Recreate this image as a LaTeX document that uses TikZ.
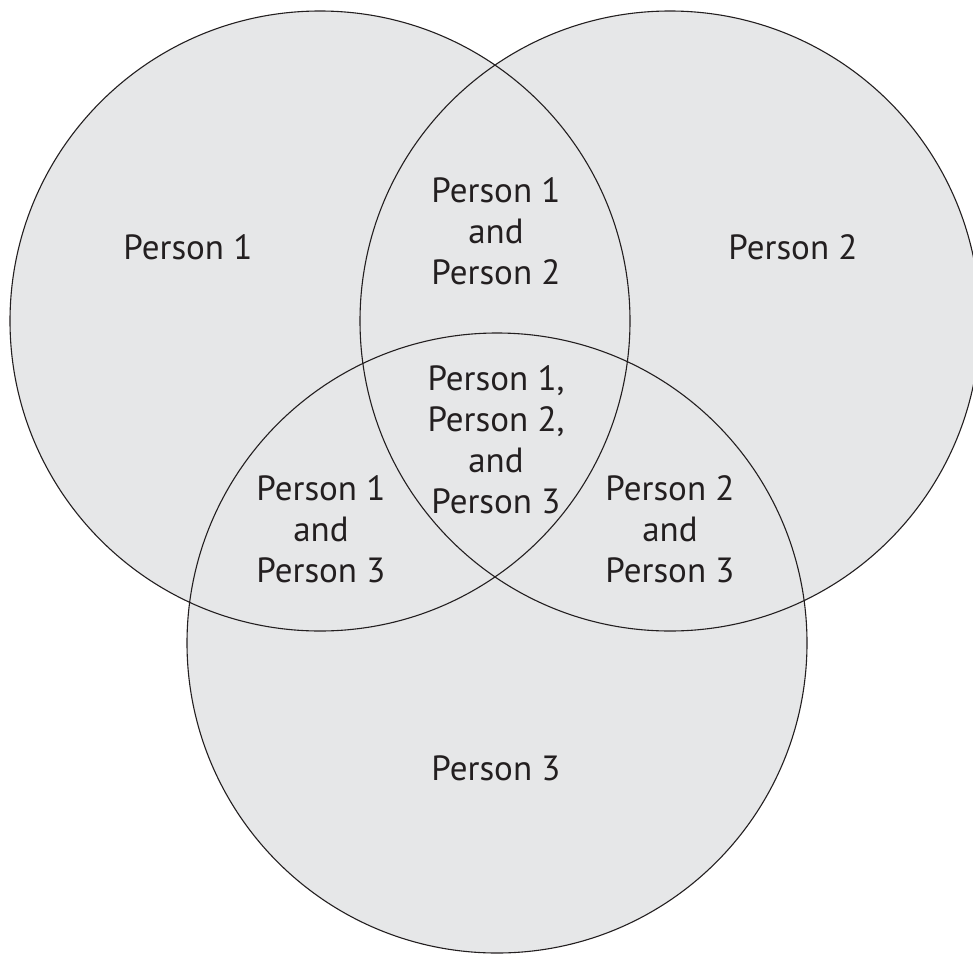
\documentclass[tikz,border=0pt]{standalone}
\usepackage{fontspec}
\setmainfont{PT Sans}
\definecolor{vfill}{HTML}{E6E7E8}
\definecolor{vline}{HTML}{231F20}
\begin{document}
\begin{tikzpicture}[x=1pt,y=-1pt,
  setc/.style={fill=vfill,draw=vline,line width=1.1pt},
  lbl/.style={align=center,inner sep=0pt,text=vline,font=\fontsize{35}{41}\selectfont}]
\useasboundingbox (0,0) rectangle (973,955);
\fill[vfill] (320,321) circle[radius=310];
\fill[vfill] (670,321) circle[radius=310];
\fill[vfill] (497,643) circle[radius=310];
\draw[vline,line width=1.1pt] (320,321) circle[radius=310];
\draw[vline,line width=1.1pt] (670,321) circle[radius=310];
\draw[vline,line width=1.1pt] (497,643) circle[radius=310];
\node[lbl] (p1) at (188,247) {Person 1};
\node[lbl] (p2) at (793,247) {Person 2};
\node[lbl] (p12) at (496,231) {Person 1\\and\\Person 2};
\node[lbl] (p123) at (496,440) {Person 1,\\Person 2,\\and\\Person 3};
\node[lbl] (p13) at (321,529) {Person 1\\and\\Person 3};
\node[lbl] (p23) at (670,529) {Person 2\\and\\Person 3};
\node[lbl] (p3) at (496,768) {Person 3};
\end{tikzpicture}
\end{document}
